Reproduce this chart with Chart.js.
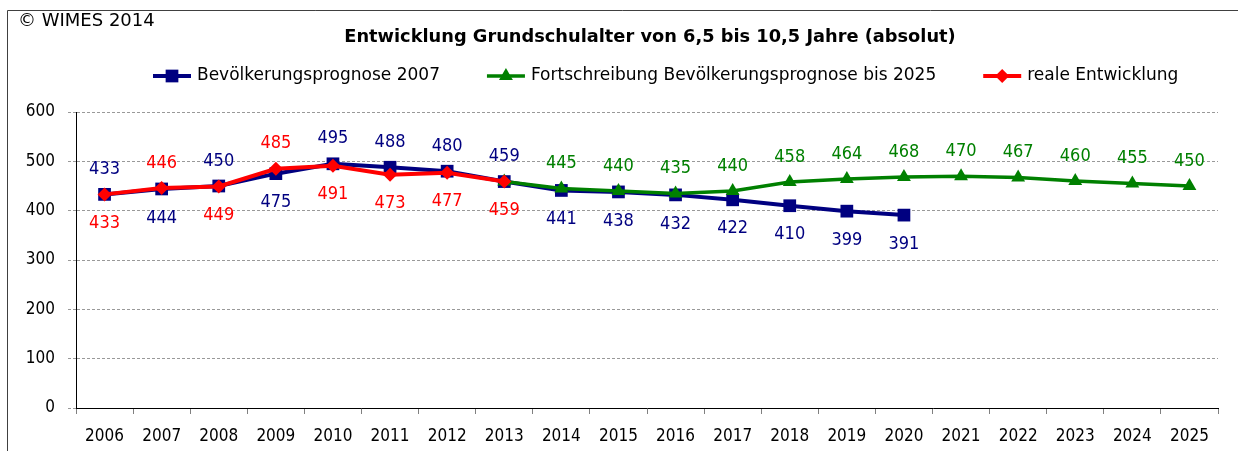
<!DOCTYPE html>
<html>
<head>
<meta charset="utf-8">
<script src="https://cdn.jsdelivr.net/npm/chart.js@4.4.1/dist/chart.umd.min.js"></script>
<style>
  html, body { margin: 0; padding: 0; background: #fff; }
</style>
</head>
<body>
<canvas id="grundschulChart" width="1238" height="451"></canvas>
<script>
// categories and series
const years = [2006, 2007, 2008, 2009, 2010, 2011, 2012, 2013, 2014, 2015,
               2016, 2017, 2018, 2019, 2020, 2021, 2022, 2023, 2024, 2025];

const prognose2007 = [433, 444, 450, 475, 495, 488, 480, 459, 441, 438,
                      432, 422, 410, 399, 391, null, null, null, null, null];

const fortschreibung = [null, null, null, null, null, null, null, 459, 445, 440,
                        435, 440, 458, 464, 468, 470, 467, 460, 455, 450];

const realeEntwicklung = [433, 446, 449, 485, 491, 473, 477, 459, null, null,
                          null, null, null, null, null, null, null, null, null, null];

const yTicks = [0, 100, 200, 300, 400, 500, 600];

// numbers in the narrow cut, words in the regular one
const NUM_FONT = '"DejaVu Sans Condensed", "DejaVu Sans", sans-serif';
const TEXT_FONT = '"DejaVu Sans", sans-serif';
const navy = '#000080';
const green = '#008000';
const red = '#ff0000';

// frame, copyright line, title and legend
const frameAndLegend = {
  id: 'frameAndLegend',
  beforeDraw(chart) {
    const ctx = chart.ctx;
    ctx.save();
    ctx.fillStyle = '#fff';
    ctx.fillRect(0, 0, chart.width, chart.height);
    ctx.strokeStyle = '#404040';
    ctx.lineWidth = 1;
    ctx.beginPath();
    ctx.moveTo(7.5, chart.height);
    ctx.lineTo(7.5, 10.5);
    ctx.lineTo(chart.width, 10.5);
    ctx.stroke();
    ctx.restore();
  },
  afterDraw(chart) {
    const ctx = chart.ctx;
    ctx.save();
    ctx.fillStyle = '#000';
    ctx.textBaseline = 'middle';

    ctx.font = '18px ' + TEXT_FONT;
    ctx.textAlign = 'left';
    ctx.fillText('© WIMES 2014', 18, 21);

    ctx.font = 'bold 17.8px ' + TEXT_FONT;
    ctx.textAlign = 'center';
    ctx.fillText('Entwicklung Grundschulalter von 6,5 bis 10,5 Jahre (absolut)', 650, 37);

    // legend: short line with the marker in the middle, then the name
    ctx.font = '17px ' + TEXT_FONT;
    ctx.textAlign = 'left';
    let x = 153;
    const y = 76;
    chart.data.datasets.forEach((ds) => {
      ctx.strokeStyle = ds.borderColor;
      ctx.fillStyle = ds.borderColor;
      ctx.lineWidth = ds.borderWidth;
      ctx.beginPath();
      ctx.moveTo(x, y);
      ctx.lineTo(x + 38, y);
      ctx.stroke();
      Chart.helpers.drawPoint(ctx, {
        pointStyle: ds.pointStyle,
        radius: ds.pointRadius,
        rotation: 0,
        borderWidth: 0
      }, x + 19, y);
      ctx.fillStyle = '#000';
      ctx.fillText(ds.label, x + 44, y);
      x += 44 + ctx.measureText(ds.label).width + 47;
    });
    ctx.restore();
  }
};

// value labels: the higher series gets its label above, the lower one below
const valueLabels = {
  id: 'valueLabels',
  afterDatasetsDraw(chart) {
    const ctx = chart.ctx;
    const sets = chart.data.datasets;
    ctx.save();
    ctx.font = '18px ' + NUM_FONT;
    ctx.textAlign = 'center';
    ctx.textBaseline = 'middle';
    sets.forEach((ds, di) => {
      const meta = chart.getDatasetMeta(di);
      meta.data.forEach((pt, i) => {
        const v = ds.data[i];
        if (v == null || i < (ds.labelFrom || 0)) return;
        const above = sets.every((other, oi) => {
          const ov = other.data[i];
          if (oi === di || ov == null) return true;
          return v > ov || (v === ov && di < oi);
        });
        ctx.fillStyle = ds.borderColor;
        ctx.fillText(String(v), pt.x, above ? pt.y - 25 : pt.y + 29);
      });
    });
    ctx.restore();
  }
};

new Chart(document.getElementById('grundschulChart'), {
  type: 'line',
  data: {
    labels: years,
    datasets: [{
      label: 'Bevölkerungsprognose 2007',
      data: prognose2007,
      borderColor: navy,
      backgroundColor: navy,
      borderWidth: 4,
      pointStyle: 'rect',
      pointRadius: 9,
      pointBorderWidth: 0,
      order: 3
    }, {
      label: 'Fortschreibung Bevölkerungsprognose bis 2025',
      data: fortschreibung,
      borderColor: green,
      backgroundColor: green,
      borderWidth: 3.5,
      pointStyle: 'triangle',
      pointRadius: 8,
      pointBorderWidth: 0,
      labelFrom: years.indexOf(2014),
      order: 2
    }, {
      label: 'reale Entwicklung',
      data: realeEntwicklung,
      borderColor: red,
      backgroundColor: red,
      borderWidth: 4,
      pointStyle: 'rectRot',
      pointRadius: 7,
      pointBorderWidth: 0,
      order: 1
    }]
  },
  options: {
    responsive: false,
    animation: false,
    layout: {
      padding: { top: 112, right: 20, bottom: 0, left: 0 }
    },
    plugins: {
      legend: { display: false },
      title: { display: false },
      tooltip: { enabled: false }
    },
    scales: {
      x: {
        offset: true,
        grid: {
          offset: true,
          drawOnChartArea: false,
          tickLength: 6,
          color: '#808080'
        },
        border: { color: '#000', width: 1 },
        ticks: {
          color: '#000',
          font: { family: NUM_FONT, size: 17 },
          padding: 12,
          maxRotation: 0,
          autoSkip: false
        },
        afterFit(scale) { scale.height = 43; }
      },
      y: {
        min: yTicks[0],
        max: yTicks[yTicks.length - 1],
        afterBuildTicks(scale) {
          scale.ticks = yTicks.map((value) => ({ value }));
        },
        grid: {
          color: (c) => (c.tick && c.tick.value === 0 ? 'rgba(0,0,0,0)' : '#999'),
          tickColor: '#999',
          tickLength: 8,
          tickBorderDash: [3, 2]
        },
        border: { color: '#000', width: 1, dash: [3, 2] },
        ticks: {
          color: '#000',
          font: { family: NUM_FONT, size: 17 },
          padding: 13
        },
        afterFit(scale) { scale.width = 76; }
      }
    }
  },
  plugins: [frameAndLegend, valueLabels]
});
</script>
</body>
</html>
